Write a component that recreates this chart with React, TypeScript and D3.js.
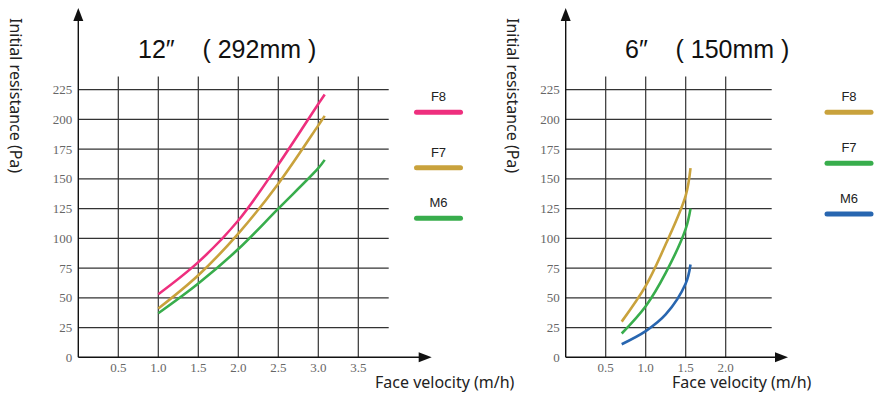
import React from 'react';
import * as d3 from 'd3';

// --- data ---
const velocity12 = [1.0, 1.5, 2.0, 2.5, 3.0, 3.08];
const f8_12 = [53, 80, 115, 162, 213, 221];
const f7_12 = [41, 69, 104, 146, 195, 203];
const m6_12 = [37, 62, 91, 125, 159, 166];

const velocity6 = [0.7, 1.0, 1.25, 1.5, 1.56];
const f8_6 = [30, 60, 95, 136, 159];
const f7_6 = [20, 43, 71, 108, 125];
const m6_6 = [11, 22, 36, 62, 78];

const yTicks = [0, 25, 50, 75, 100, 125, 150, 175, 200, 225];
const xTicks12 = [0.5, 1.0, 1.5, 2.0, 2.5, 3.0, 3.5];
const xTicks6 = [0.5, 1.0, 1.5, 2.0];

const PINK = '#ee2f7e';
const GOLD = '#c9a23c';
const GREEN = '#38ad4c';
const BLUE = '#2866b0';

type Series = { name: string; values: number[]; color: string };

const Panel = ({ x0, xMax, xTicks, velocity, series, title, titleX, yLabelX, xLabelX, arrowX, legendX, legendYs }: {
  x0: number; xMax: number; xTicks: number[]; velocity: number[]; series: Series[];
  title: string; titleX: number; yLabelX: number; xLabelX: number; arrowX: number;
  legendX: number; legendYs: number[];
}) => {
  const x = d3.scaleLinear().domain([0, xMax]).range([x0, x0 + xMax * 80]);
  const y = d3.scaleLinear().domain([0, 225]).range([357.3, 89.7]);
  const gridTop = y(236);
  const line = d3.line<[number, number]>()
    .x(d => x(d[0]))
    .y(d => y(d[1]))
    .curve(d3.curveCatmullRom.alpha(0.5));

  return (
    <g>
      {/* grid */}
      {yTicks.filter(t => t > 0).map(t => (
        <line key={'h' + t} x1={x0} x2={x(xMax)} y1={y(t)} y2={y(t)} stroke="#333" strokeWidth={1.2} />
      ))}
      {xTicks.map(t => (
        <line key={'v' + t} x1={x(t)} x2={x(t)} y1={gridTop} y2={y(0)} stroke="#333" strokeWidth={1.2} />
      ))}
      {/* axes */}
      <line x1={x0} x2={x0} y1={y(0)} y2={20} stroke="#111" strokeWidth={1.4} />
      <path d={`M${x0},8 L${x0 - 5},21 L${x0 + 5},21 Z`} fill="#111" />
      <line x1={x0} x2={arrowX - 10} y1={y(0)} y2={y(0)} stroke="#111" strokeWidth={1.4} />
      <path d={`M${arrowX},${y(0)} L${arrowX - 13},${y(0) - 5} L${arrowX - 13},${y(0) + 5} Z`} fill="#111" />
      {/* tick labels */}
      {yTicks.map(t => (
        <text key={'yl' + t} x={x0 - 6} y={y(t) + 4.5} textAnchor="end" fontFamily="'Liberation Serif', serif" fontSize={13} fill="#666">{t}</text>
      ))}
      {xTicks.map(t => (
        <text key={'xl' + t} x={x(t)} y={372} textAnchor="middle" fontFamily="'Liberation Serif', serif" fontSize={13} fill="#666">{t.toFixed(1)}</text>
      ))}
      {/* curves */}
      {series.map(s => (
        <path key={s.name} d={line(velocity.map((v, i) => [v, s.values[i]]) as [number, number][]) || ''}
          fill="none" stroke={s.color} strokeWidth={2.6} />
      ))}
      {/* titles */}
      <text x={titleX} y={58} fontFamily="'Liberation Sans', Arial, sans-serif" fontSize={25} fill="#111" style={{ whiteSpace: 'pre' }}>{title}</text>
      <text transform={`translate(${yLabelX},18) rotate(90)`} fontFamily="'Noto Sans', sans-serif" fontSize={16} fill="#222">Initial resistance (Pa)</text>
      <text x={xLabelX} y={388} fontFamily="'Noto Sans', sans-serif" fontSize={16} fill="#222">Face velocity (m/h)</text>
      {/* legend */}
      {series.map((s, i) => (
        <g key={'lg' + s.name}>
          <text x={legendX} y={legendYs[i] - 11} textAnchor="middle" fontFamily="'Liberation Sans', Arial, sans-serif" fontSize={13} fill="#222">{s.name}</text>
          <line x1={legendX - 22} x2={legendX + 22} y1={legendYs[i]} y2={legendYs[i]} stroke={s.color} strokeWidth={5} strokeLinecap="round" />
        </g>
      ))}
    </g>
  );
};

export default function App() {
  return (
    <svg width={887} height={399} style={{ position: 'absolute', left: 0, top: 0, background: '#fff' }}>
      <Panel
        x0={78.3} xMax={3.88} xTicks={xTicks12} velocity={velocity12}
        series={[
          { name: 'F8', values: f8_12, color: PINK },
          { name: 'F7', values: f7_12, color: GOLD },
          { name: 'M6', values: m6_12, color: GREEN },
        ]}
        title={'12″    ( 292mm )'} titleX={138} yLabelX={10} xLabelX={375} arrowX={431.7}
        legendX={438.5} legendYs={[112.3, 167.7, 218.3]}
      />
      <Panel
        x0={565.7} xMax={2.575} xTicks={xTicks6} velocity={velocity6}
        series={[
          { name: 'F8', values: f8_6, color: GOLD },
          { name: 'F7', values: f7_6, color: GREEN },
          { name: 'M6', values: m6_6, color: BLUE },
        ]}
        title={'6″    ( 150mm )'} titleX={625} yLabelX={506.7} xLabelX={672} arrowX={788}
        legendX={849} legendYs={[112.3, 163.3, 214]}
      />
    </svg>
  );
}
